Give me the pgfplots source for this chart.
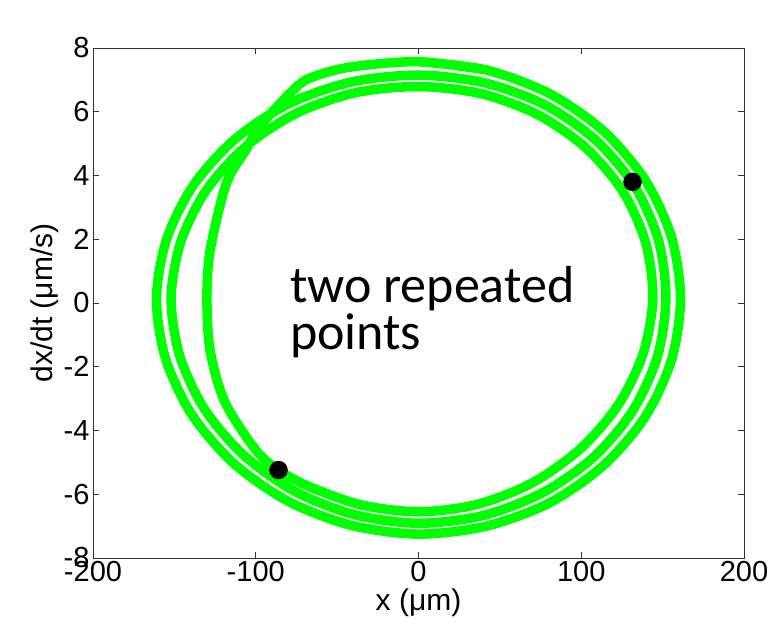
\documentclass[border=0pt]{standalone}
\usepackage{fontspec}
\setmainfont{Liberation Sans}
\newfontfamily\calibri{Carlito}
\usepackage{pgfplots}
\pgfplotsset{compat=1.18}
\definecolor{mgreen}{RGB}{0,255,0}
\begin{document}
\begin{tikzpicture}
\begin{axis}[
  scale only axis, width=651pt, height=510pt,
  xmin=-200, xmax=200, ymin=-8, ymax=8,
  xtick={-200,-100,0,100,200}, ytick={-8,-6,-4,-2,0,2,4,6,8},
  tick align=inside, major tick length=6pt,
  axis line style={line width=0.9pt, black!80},
  every tick/.style={black!80, line width=0.9pt},
  /pgf/number format/assume math mode=true,
  tick label style={font=\fontsize{29}{31}\selectfont},
  xlabel={x (μm)}, ylabel={dx/dt (μm/s)},
  label style={font=\fontsize{30}{32}\selectfont},
  ylabel style={yshift=-2pt},
]
\addplot[mgreen, line width=9.5pt, smooth, line join=round] coordinates {
(0,7.57) (41.67,7.31) (80.5,6.57) (113.8,5.39) (139.4,3.85) (155.5,2.06)
(161,0.14) (155.5,-1.78) (139.4,-3.56) (113.8,-5.09) (80.5,-6.27) (41.67,-7.00)
(0,-7.25) (-41.67,-6.97) (-80.5,-6.21) (-113.8,-5.02) (-139.4,-3.49) (-155.5,-1.73)
(-161,0.14) (-154.8,2.00) (-138.1,3.71) (-112.3,5.16) (-79.0,6.27) (-40.70,6.94)
(0,7.15) (40.31,6.91) (77.5,6.22) (109.1,5.10) (132.9,3.65) (147.5,1.96)
(152,0.14) (146.8,-1.68) (131.6,-3.38) (107.5,-4.84) (76,-5.96) (39.34,-6.67)
(0,-6.91) (-39.34,-6.64) (-76,-5.91) (-107.5,-4.77) (-131.6,-3.32) (-146.8,-1.64)
(-152,0.14) (-146.2,1.90) (-130.5,3.53) (-106.1,4.91) (-74.7,5.96) (-38.48,6.60)
(0,6.79) (38.13,6.57) (73.3,5.91) (103.2,4.85) (125.9,3.47) (139.7,1.87)
(144,0.14) (138.0,-1.59) (122.7,-3.20) (99.3,-4.58) (69.7,-5.65) (35.76,-6.32)
(0,-6.55) (-35.5,-6.33) (-68,-5.74) (-86,-5.24) (-100,-4.61) (-119,-3.10) (-128,-1.50)
(-130,0.14) (-128,1.66) (-118,3.76) (-106,4.8) (-97.7,5.53) (-79,6.58) (-67,7.05) (-42,7.40)
(0,7.57) (41.67,7.31)
};
\addplot[only marks, mark=*, mark size=9pt, black] coordinates {(131.5,3.80) (-86,-5.24)};
\node[anchor=base west, inner sep=0pt, font=\calibri\fontsize{52}{52}\selectfont] at (axis cs:-79,0.03) {two repeated};
\node[anchor=base west, inner sep=0pt, font=\calibri\fontsize{52}{52}\selectfont] at (axis cs:-79,-1.47) {points};
\node[anchor=base west, inner sep=0pt, font=\fontsize{21}{22}\selectfont] at (rel axis cs:0,1) [yshift=10pt] {x 10\raisebox{10pt}{\fontsize{15}{15}\selectfont 5}};
\end{axis}
\path (current axis.south west) +(-93pt,-71pt) coordinate (bl);
\path (current axis.north east) +(33pt,48pt) coordinate (tr);
\pgfresetboundingbox
\path (bl) rectangle (tr);
\end{tikzpicture}
\end{document}
